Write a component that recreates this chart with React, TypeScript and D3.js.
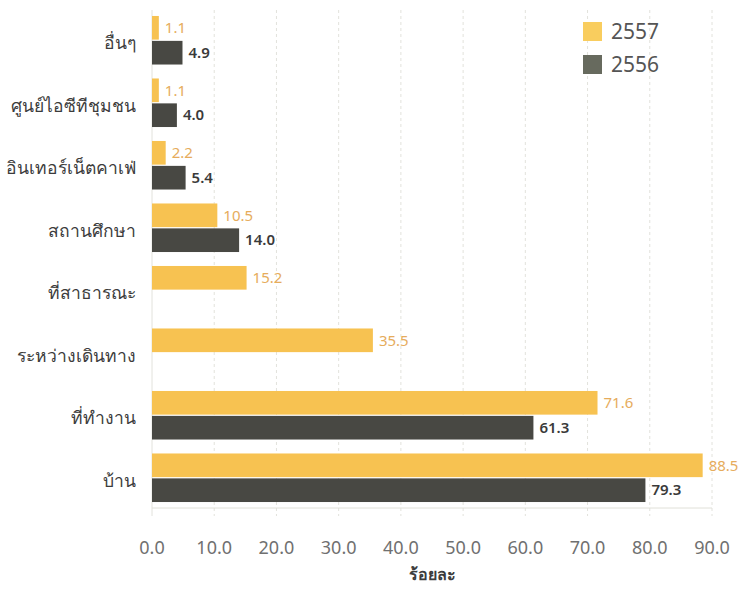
import React from "react";
import * as d3 from "d3";

const categories = ["อื่นๆ", "ศูนย์ไอซีทีชุมชน", "อินเทอร์เน็ตคาเฟ่", "สถานศึกษา", "ที่สาธารณะ", "ระหว่างเดินทาง", "ที่ทำงาน", "บ้าน"];
const values2557: (number | null)[] = [1.1, 1.1, 2.2, 10.5, 15.2, 35.5, 71.6, 88.5];
const values2556: (number | null)[] = [4.9, 4.0, 5.4, 14.0, null, null, 61.3, 79.3];
const xTicks = [0, 10, 20, 30, 40, 50, 60, 70, 80, 90];
const seriesNames = ["2557", "2556"];
const xTitle = "ร้อยละ";

const W = 745;
const H = 589;
const FONT = "Tahoma, 'Noto Sans', 'DejaVu Sans', sans-serif";
const YELLOW = "#f7c251";
const DARK = "#484843";
const LEG_DARK = "#676a5e";

export default function App() {
  const x = d3.scaleLinear().domain([0, 90]).range([152, 712]);
  const y = d3.scaleBand<string>().domain(categories).range([9, 509]);
  const sub = d3.scaleBand<string>().domain(seriesNames).range([0, y.bandwidth()]).paddingOuter(0.28).paddingInner(0.05);
  const bh = sub.bandwidth();
  const series = [
    { name: "2557", vals: values2557, color: YELLOW, label: "#e6ac5c", weight: 400 },
    { name: "2556", vals: values2556, color: DARK, label: "#3a3a3a", weight: 600 },
  ];
  return (
    <svg width={W} height={H} style={{ position: "absolute", left: 0, top: 0, background: "#fff" }}>
      {xTicks.map((t) => (
        <line key={"g" + t} x1={x(t)} x2={x(t)} y1={10} y2={516} stroke="#e2e2dc" strokeWidth={1} strokeDasharray={t === 0 ? undefined : "3,3"} />
      ))}
      <line x1={x(0)} x2={x(90)} y1={508} y2={508} stroke="#e0e0d8" strokeWidth={1} />
      {series.map((s) =>
        categories.map((c, i) => {
          const v = s.vals[i];
          if (v == null) return null;
          const yy = (y(c) as number) + (sub(s.name) as number);
          return (
            <g key={s.name + c}>
              <rect x={x(0)} y={yy} width={x(v) - x(0)} height={bh} fill={s.color} />
              <text x={x(v) + 6} y={yy + bh / 2} dy="0.35em" fontSize={15} fontFamily={FONT} fill={s.label} fontWeight={s.weight}>
                {v.toFixed(1)}
              </text>
            </g>
          );
        })
      )}
      {categories.map((c) => (
        <text key={"c" + c} x={136} y={(y(c) as number) + y.bandwidth() / 2 + 3} dy="0.35em" textAnchor="end" fontSize={17.5} fontFamily={FONT} fill="#3c3c3c">
          {c}
        </text>
      ))}
      {xTicks.map((t) => (
        <text key={"t" + t} x={x(t)} y={548} dy="0.35em" textAnchor="middle" fontSize={18} fontFamily={FONT} fill="#707070">
          {t.toFixed(1)}
        </text>
      ))}
      <text x={(x(0) + x(90)) / 2} y={574} dy="0.35em" textAnchor="middle" fontSize={16} fontFamily={FONT} fill="#3c3c3c" fontWeight={700}>
        {xTitle}
      </text>
      {seriesNames.map((n, i) => (
        <g key={"l" + n} transform={`translate(583, ${22 + i * 33})`}>
          <rect x={0} y={0} width={19} height={19} fill={i === 0 ? "#f9cd5e" : LEG_DARK} />
          <text x={28} y={10} dy="0.35em" fontSize={21} fontFamily={FONT} fill="#555">
            {n}
          </text>
        </g>
      ))}
    </svg>
  );
}
